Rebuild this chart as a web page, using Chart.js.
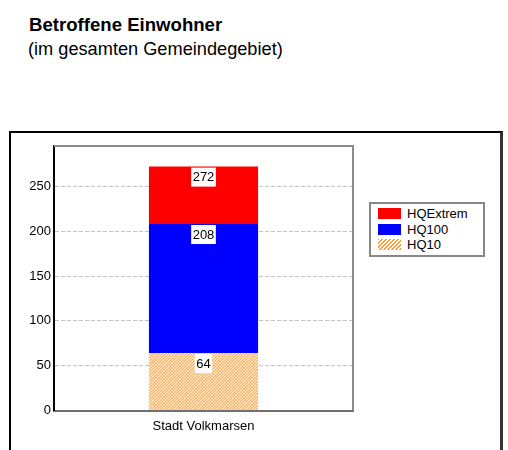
<!DOCTYPE html>
<html><head><meta charset="utf-8">
<script src="https://cdn.jsdelivr.net/npm/chart.js@4"></script>
<style>
html,body{margin:0;padding:0;background:#fff;width:508px;height:450px;overflow:hidden;font-family:"Liberation Sans",Arial,sans-serif;color:#000;}
#frame{position:absolute;left:9px;top:131px;width:489px;height:340px;border:2px solid #000;border-right:3px solid #333;}
#title{position:absolute;left:29px;top:14px;font-weight:bold;font-size:18.6px;line-height:22px;white-space:nowrap;}
#subtitle{position:absolute;left:28px;top:38px;font-size:18.2px;line-height:22px;white-space:nowrap;}
#wrap{position:absolute;left:0;top:0;width:508px;height:450px;}
#legend{position:absolute;left:369px;top:202px;border:2px solid #888;background:#fff;padding:2px 0 0 7px;box-sizing:border-box;width:116px;height:55px;}
.row{display:flex;align-items:center;height:15.5px;font-size:13px;line-height:15px;}
.sw{width:23px;height:11px;margin-right:6px;flex:none;}
</style></head>
<body>
<div id="frame"></div>
<div id="title">Betroffene Einwohner</div>
<div id="subtitle">(im gesamten Gemeindegebiet)</div>
<div id="wrap"><canvas id="c" width="508" height="450"></canvas></div>
<div id="legend"></div>
<script>
const categories = ['Stadt Volkmarsen'];
const seriesNames = ['HQ10', 'HQ100', 'HQExtrem'];
const hq10 = [64];
const hq100 = [144];
const hqExtrem = [64];
const yTicks = [0, 50, 100, 150, 200, 250];

function hatchPattern(ctx){
  const c = document.createElement('canvas'); c.width = 3; c.height = 3;
  const g = c.getContext('2d');
  g.fillStyle = '#FFE0BC'; g.fillRect(0,0,3,3);
  g.fillStyle = '#FFA650';
  for (let x=0;x<3;x++){ for(let y=0;y<3;y++){ if((x+y)%3===2) g.fillRect(x,y,1,1); } }
  return ctx.createPattern(c,'repeat');
}

const cv = document.getElementById('c');
const ctx0 = cv.getContext('2d');
const FONT = '"Liberation Sans", Arial, sans-serif';

const plotFrame = {
  id:'plotFrame',
  afterDraw(chart){
    const a = chart.chartArea, ctx = chart.ctx;
    ctx.save();
    ctx.strokeStyle = '#8c8c8c'; ctx.lineWidth = 2;
    ctx.beginPath();
    ctx.moveTo(a.left, a.top); ctx.lineTo(a.right, a.top); ctx.lineTo(a.right, a.bottom);
    ctx.stroke();
    ctx.restore();
  }
};

const valueLabels = {
  id:'valueLabels',
  afterDatasetsDraw(chart){
    const ctx = chart.ctx;
    ctx.save();
    ctx.font = '13px ' + FONT;
    ctx.textAlign = 'center'; ctx.textBaseline = 'middle';
    chart.data.datasets.forEach((ds, di) => {
      const meta = chart.getDatasetMeta(di);
      meta.data.forEach((el, i) => {
        let sum = 0;
        for (let k=0;k<=di;k++) sum += chart.data.datasets[k].data[i];
        const txt = String(sum);
        const w = ctx.measureText(txt).width + 3;
        const cy = el.y + 10.5;
        ctx.fillStyle = '#fff'; ctx.fillRect(el.x - w/2, cy - 9.5, w, 19);
        ctx.fillStyle = '#000'; ctx.fillText(txt, el.x, cy + 0.5);
      });
    });
    ctx.restore();
  }
};

const chart = new Chart(cv, {
  type: 'bar',
  data: {
    labels: categories,
    datasets: [
      { label: seriesNames[0], data: hq10, backgroundColor: hatchPattern(ctx0), borderWidth: 0 },
      { label: seriesNames[1], data: hq100, backgroundColor: '#0000FF', borderWidth: 0 },
      { label: seriesNames[2], data: hqExtrem, backgroundColor: '#FF0000', borderWidth: 0 }
    ]
  },
  options: {
    responsive: false, animation: false, devicePixelRatio: 1,
    layout: { padding: { left: 10, top: 146, right: 155, bottom: 0 } },
    datasets: { bar: { categoryPercentage: 1, barPercentage: 0.365 } },
    plugins: { legend: { display: false }, title: { display: false }, tooltip: { enabled: false } },
    scales: {
      x: {
        stacked: true,
        grid: { display: false, drawTicks: false },
        border: { color: '#707070', width: 2 },
        ticks: { color: '#000', font: { family: FONT, size: 13 }, padding: 8 },
        afterFit: s => { s.height = 39.5; }
      },
      y: {
        stacked: true, min: 0, max: 295,
        grid: { color: '#c4c4c4', lineWidth: 1, drawTicks: false },
        border: { color: '#000', width: 2, dash: [4,2] },
        ticks: { color: '#000', font: { family: FONT, size: 13 }, padding: 3 },
        afterBuildTicks: s => { s.ticks = yTicks.map(v => ({ value: v })); },
        afterFit: s => { s.width = 44; }
      }
    }
  },
  plugins: [plotFrame, valueLabels]
});

// HTML legend built from the chart's datasets (reverse order, as in the reference)
const legendSw = {
  'HQExtrem': 'background:#FF0000',
  'HQ100': 'background:#0000FF',
  'HQ10': 'background:repeating-linear-gradient(135deg,#FF9933 0 1.4px,#fff 1.4px 2.8px)'
};
const lg = document.getElementById('legend');
chart.data.datasets.slice().reverse().forEach(ds => {
  const r = document.createElement('div'); r.className = 'row';
  const s = document.createElement('div'); s.className = 'sw'; s.setAttribute('style', legendSw[ds.label]);
  const t = document.createElement('span'); t.textContent = ds.label;
  r.appendChild(s); r.appendChild(t); lg.appendChild(r);
});
</script>
</body></html>
